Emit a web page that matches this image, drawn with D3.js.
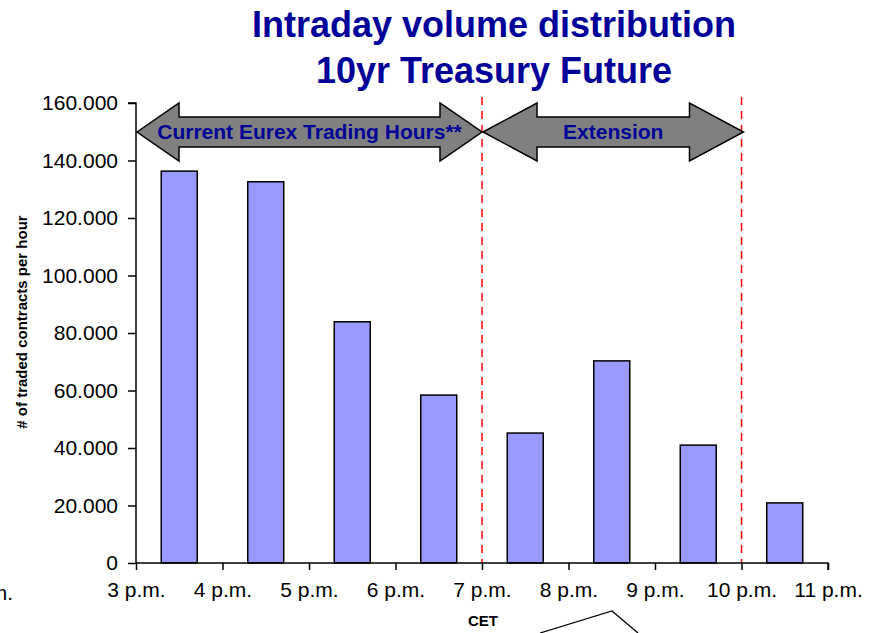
<!DOCTYPE html>
<html><head><meta charset="utf-8">
<script src="https://cdn.jsdelivr.net/npm/d3@7"></script>
<style>body{margin:0;background:#fff}svg{display:block}text{font-family:Arial,"Liberation Sans",sans-serif}</style>
</head><body>
<svg id="c" width="869" height="633"></svg>
<script>
const hourTicks = ["3 p.m.","4 p.m.","5 p.m.","6 p.m.","7 p.m.","8 p.m.","9 p.m.","10 p.m.","11 p.m."];
const barHours = ["3-4","4-5","5-6","6-7","7-8","8-9","9-10","10-11"];
const volumes = [136300, 132600, 83900, 58400, 45200, 70300, 41000, 20900];
const yTicks = [0,20000,40000,60000,80000,100000,120000,140000,160000];
const spans = [{from:0,to:4,label:"Current Eurex Trading Hours**"},{from:4,to:7,label:"Extension"}];
const markerLines = [4,7];

const svg = d3.select("#c");
const x0 = 136, x1 = 828, yTop = 103, yBot = 563;
const xIdx = d3.scaleLinear().domain([0,8]).range([x0,x1]);
const y = d3.scaleLinear().domain([0,160000]).range([yBot,yTop]);
const loc = d3.formatLocale({decimal:",",thousands:".",grouping:[3],currency:["",""]});
const fmt = loc.format(",");
const FF = "Arial, Liberation Sans, sans-serif";

// title
const navy = "#000099";
svg.append("text").attr("x",494).attr("y",37).attr("text-anchor","middle").attr("font-size",36).attr("font-weight","bold").attr("fill",navy).text("Intraday volume distribution");
svg.append("text").attr("x",494).attr("y",83).attr("text-anchor","middle").attr("font-size",36).attr("font-weight","bold").attr("fill",navy).text("10yr Treasury Future");

// bars
const bw = 36;
svg.append("g").selectAll("rect").data(volumes).join("rect")
  .attr("x",(d,i)=>(xIdx(i)+xIdx(i+1))/2 - bw/2)
  .attr("y",d=>y(d)).attr("width",bw).attr("height",d=>yBot-y(d))
  .attr("fill","#9999FF").attr("stroke","#000").attr("stroke-width",1.5);

// red dashed
svg.append("g").selectAll("line").data(markerLines).join("line")
  .attr("x1",d=>xIdx(d)).attr("x2",d=>xIdx(d)).attr("y1",97).attr("y2",yBot)
  .attr("stroke","#ff0000").attr("stroke-width",1.5).attr("stroke-dasharray","8,6");

// axes
const yAxis = d3.axisLeft(y).tickValues(yTicks).tickFormat(d=>d===0?"0":fmt(d)).tickSize(8).tickPadding(10);
const gy = svg.append("g").attr("transform",`translate(${x0},0)`).call(yAxis);
gy.select(".domain").attr("stroke","#000").attr("stroke-width",1.5).attr("d",`M-8,${yTop}H0V${yBot}`);
gy.selectAll(".tick line").attr("stroke","#000").attr("stroke-width",1.5);
gy.selectAll(".tick text").attr("font-size",21).attr("fill","#000").attr("font-family",FF);

const xs = d3.scaleLinear().domain([0,8]).range([x0,x1]);
const xAxis = d3.axisBottom(xs).tickValues(d3.range(9)).tickFormat(i=>hourTicks[i]).tickSize(7).tickPadding(12);
const gx = svg.append("g").attr("transform",`translate(0,${yBot})`).call(xAxis);
gx.select(".domain").attr("stroke","#000").attr("stroke-width",1.5).attr("d",`M${x0},0H${x1}V7`);
gx.selectAll(".tick line").attr("stroke","#000").attr("stroke-width",1.5);
gx.selectAll(".tick text").attr("font-size",21).attr("fill","#000").attr("font-family",FF);

// cut-off label at the left
svg.append("text").attr("x",13).attr("y",600).attr("text-anchor","end").attr("font-size",21).text("2 p.m.");

// axis titles
svg.append("text").attr("x",483).attr("y",626).attr("text-anchor","middle").attr("font-size",15).attr("font-weight","bold").text("CET");
svg.append("text").attr("transform","translate(27,322) rotate(-90)").attr("text-anchor","middle").attr("font-size",15).attr("font-weight","bold").text("# of traded contracts per hour");

// double arrows
const cy = 132, shaftH = 15, headH = 29;
spans.forEach((s,k)=>{
  const a = xIdx(s.from)+1, b = xIdx(s.to)+(k===0?0:2);
  const hl = k===0?42:54;
  const p = d3.path();
  p.moveTo(a,cy); p.lineTo(a+hl,cy-headH); p.lineTo(a+hl,cy-shaftH); p.lineTo(b-hl,cy-shaftH);
  p.lineTo(b-hl,cy-headH); p.lineTo(b,cy); p.lineTo(b-hl,cy+headH); p.lineTo(b-hl,cy+shaftH);
  p.lineTo(a+hl,cy+shaftH); p.lineTo(a+hl,cy+headH); p.closePath();
  svg.append("path").attr("d",p.toString()).attr("fill","#808080").attr("stroke","#000").attr("stroke-width",1.5);
  svg.append("text").attr("x",(a+b)/2).attr("y",cy+7).attr("text-anchor","middle").attr("font-size",21).attr("font-weight","bold").attr("fill",navy).text(s.label);
});

// callout lines at bottom
svg.append("path").attr("d","M540,633L612,611L638,633").attr("fill","none").attr("stroke","#000").attr("stroke-width",1.3);
</script>
</body></html>
